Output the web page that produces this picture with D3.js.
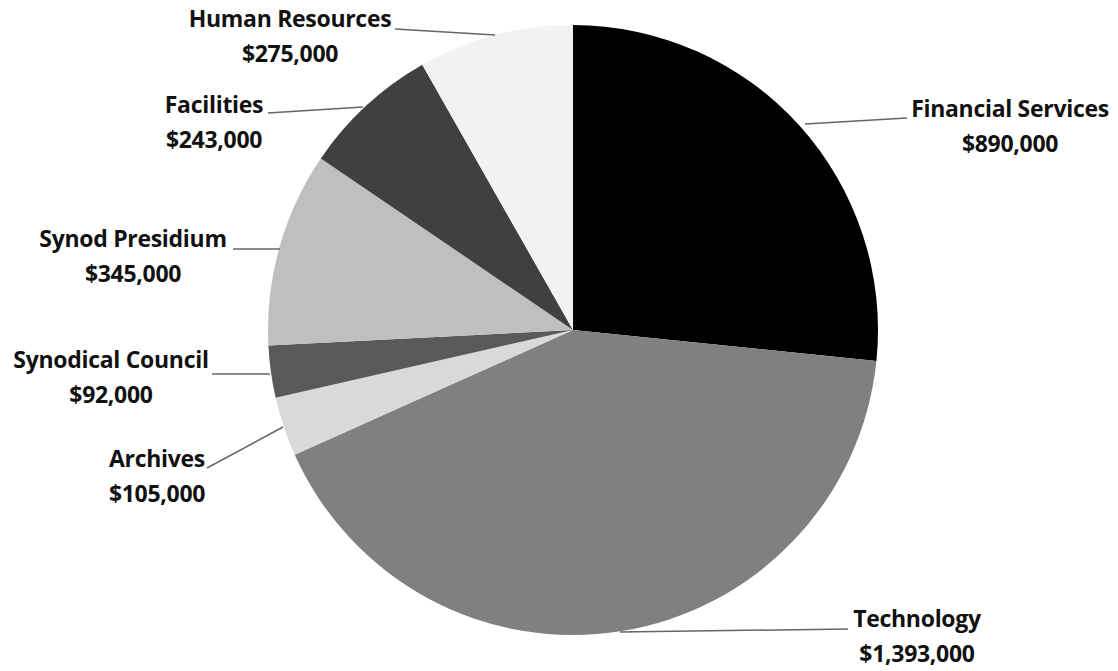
<!DOCTYPE html>
<html><head><meta charset="utf-8">
<script src="https://cdn.jsdelivr.net/npm/d3@7"></script>
<style>body{margin:0;background:#fff}svg{display:block}text{font-family:"Open Sans",Lato,sans-serif;font-weight:bold;font-size:23px;fill:#111;letter-spacing:-0.3px}</style>
</head><body><svg id="c" width="1118" height="671"></svg>
<script>
const categories = ["Financial Services","Technology","Archives","Synodical Council","Synod Presidium","Facilities","Human Resources"];
const values = [890000,1393000,105000,92000,345000,243000,275000];
const colors = ["#000000","#808080","#d9d9d9","#595959","#bfbfbf","#404040","#f2f2f2"];
// label layout: text center x, first-line baseline y, leader end point (x,y)
const labelLayout = [
  {tx:1010, ty:117, lx:907, ly:118},
  {tx:917, ty:627, lx:848, ly:629},
  {tx:157, ty:467, lx:207, ly:468},
  {tx:111, ty:368, lx:212, ly:374},
  {tx:133, ty:247, lx:233, ly:249},
  {tx:214, ty:113, lx:268, ly:113},
  {tx:290, ty:27, lx:395, ly:29}
];
const leaderStart = [[805,124],[620,632],[283,427],[270,374],[280,249],[363,107],[495,35]];

const svg = d3.select("#c");
const cx = 573, cy = 330, R = 305;
const pie = d3.pie().sort(null).value(d=>d)(values);
const arc = d3.arc().innerRadius(0).outerRadius(R);
const g = svg.append("g").attr("transform",`translate(${cx},${cy})`);
g.selectAll("path").data(pie).join("path").attr("d",arc).attr("fill",(d,i)=>colors[i]);

const fmt = d3.format("$,");
pie.forEach((d,i)=>{
  const L = labelLayout[i];
  const s = leaderStart[i];
  svg.append("line").attr("x1",s[0]).attr("y1",s[1]).attr("x2",L.lx).attr("y2",L.ly)
     .attr("stroke","#666").attr("stroke-width",1.5);
  const t = svg.append("text").attr("text-anchor","middle");
  t.append("tspan").attr("x",L.tx).attr("y",L.ty).text(categories[i]);
  t.append("tspan").attr("x",L.tx).attr("y",L.ty+35).text(fmt(values[i]));
});
</script></body></html>
